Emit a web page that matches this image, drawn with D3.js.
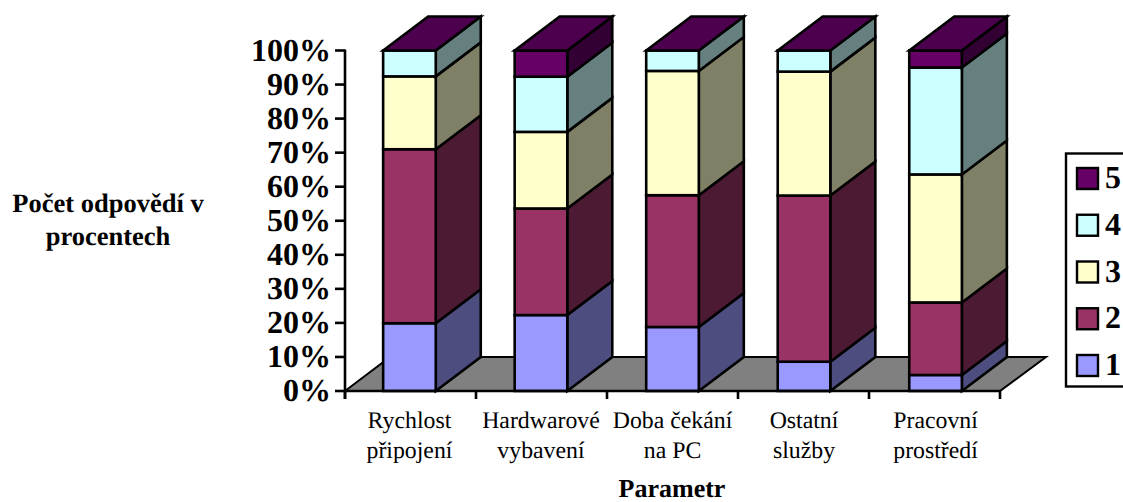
<!DOCTYPE html>
<html><head><meta charset="utf-8">
<script src="https://cdn.jsdelivr.net/npm/d3@7"></script>
<style>html,body{margin:0;background:#fff}svg{display:block}text{font-family:"Liberation Serif",serif;fill:#000;text-rendering:geometricPrecision}</style>
</head><body><svg id="c" width="1123" height="502"></svg>
<script>
const categories=[["Rychlost","připojení"],["Hardwarové","vybavení"],["Doba čekání","na PC"],["Ostatní","služby"],["Pracovní","prostředí"]];
const seriesNames=["1","2","3","4","5"];
const s1=[19.9,22.3,18.8,8.6,4.7];
const s2=[51.1,31.3,38.7,48.8,21.3];
const s3=[21.4,22.5,36.5,36.4,37.6];
const s4=[7.6,16.2,6.0,6.2,31.4];
const s5=[0,7.7,0,0,5.0];
const series=[s1,s2,s3,s4,s5];
const front=["#9999FF","#993366","#FFFFCC","#CCFFFF","#660066"];
const side=["#4D4D80","#4D1A33","#808066","#668080","#330033"];
const topFill="#4D004D";
const yTicks=d3.range(0,101,10);

const svg=d3.select("#c");
const y=d3.scaleLinear().domain([0,100]).range([391,50.5]);
const x=d3.scaleBand().domain(d3.range(5)).range([345,1000]).paddingInner(0.6).paddingOuter(0.29);
const dx=45,dy=34;
const sk=d3.line();

const [x0,x1]=x.range();
svg.append("path").attr("d",sk([[x0,y(0)],[x0+dx,y(0)-dy],[x1+dx+1,y(0)-dy],[x1,y(0)],[x0,y(0)]])+"Z")
  .attr("fill","#808080").attr("stroke","#000").attr("stroke-width",2);

const stack=d3.stack().keys(d3.range(5)).value((d,k)=>series[k][d])(d3.range(5));
const g=svg.append("g").attr("stroke","#000").attr("stroke-width",2.6).attr("stroke-linejoin","miter");
categories.forEach((_,i)=>{
  const a=x(i),b=a+x.bandwidth();
  stack.forEach((layer,k)=>{
    const lo=layer[i][0],hi=layer[i][1];
    if(hi-lo<=0)return;
    g.append("path").attr("d",sk([[b,y(lo)],[b+dx,y(lo)-dy],[b+dx,y(hi)-dy],[b,y(hi)]])+"Z").attr("fill",side[k]);
    g.append("rect").attr("x",a).attr("y",y(hi)).attr("width",b-a).attr("height",y(lo)-y(hi)).attr("fill",front[k]);
  });
  g.append("path").attr("d",sk([[a,y(100)],[a+dx,y(100)-dy],[b+dx,y(100)-dy],[b,y(100)]])+"Z").attr("fill",topFill);
});

const ax=svg.append("g").attr("stroke","#000").attr("stroke-width",2.6);
ax.append("line").attr("x1",x0).attr("x2",x0).attr("y1",y(100)-1).attr("y2",y(0)+8);
ax.append("line").attr("x1",x0).attr("x2",x1).attr("y1",y(0)).attr("y2",y(0));
yTicks.forEach(t=>{
  ax.append("line").attr("x1",x0-10).attr("x2",x0).attr("y1",y(t)).attr("y2",y(t));
  svg.append("text").attr("x",331).attr("y",y(t)+10).attr("text-anchor","end")
    .attr("font-size",32).attr("font-weight","bold").text(t+"%");
});
d3.range(6).forEach(i=>{
  const tx=x0+(x1-x0)*i/5;
  ax.append("line").attr("x1",tx).attr("x2",tx).attr("y1",y(0)).attr("y2",y(0)+8);
});
categories.forEach((c,i)=>{
  const cx=x(i)+x.bandwidth()/2;
  c.forEach((line,j)=>svg.append("text").attr("x",cx).attr("y",428+j*30).attr("text-anchor","middle").attr("font-size",23.8).text(line));
});

svg.append("text").attr("x",672).attr("y",497).attr("text-anchor","middle").attr("font-size",26).attr("font-weight","bold").text("Parametr");
[["Počet odpovědí v",212],["procentech",245]].forEach(([t,yy])=>svg.append("text").attr("x",108).attr("y",yy).attr("text-anchor","middle").attr("font-size",26.5).attr("font-weight","bold").text(t));

svg.append("rect").attr("x",1066).attr("y",153.5).attr("width",70).attr("height",233).attr("fill","#fff").attr("stroke","#000").attr("stroke-width",2.4);
const ly=d3.scalePoint().domain(seriesNames.slice().reverse()).range([178,365]);
seriesNames.forEach((n,k)=>{
  svg.append("rect").attr("x",1077).attr("y",ly(n)-10).attr("width",21).attr("height",21).attr("fill",front[k]).attr("stroke","#000").attr("stroke-width",2.4);
  svg.append("text").attr("x",1105).attr("y",ly(n)+10).attr("font-size",32).attr("font-weight","bold").text(n);
});
</script></body></html>
